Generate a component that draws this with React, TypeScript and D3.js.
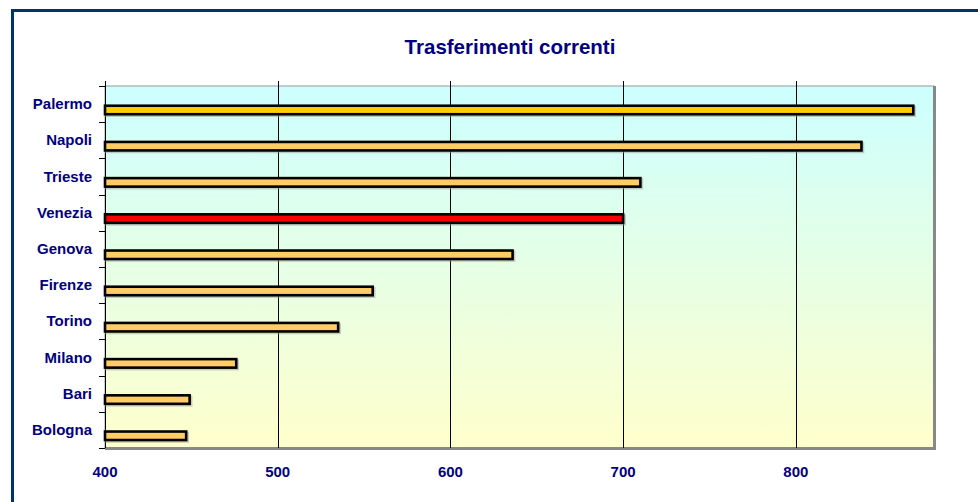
import React from "react";
import * as d3 from "d3";

const cities = ["Palermo", "Napoli", "Trieste", "Venezia", "Genova", "Firenze", "Torino", "Milano", "Bari", "Bologna"];
const values = [868, 838, 710, 700, 636, 555, 535, 476, 449, 447];
const tickValues = [400, 500, 600, 700, 800];
const title = "Trasferimenti correnti";

const W = 978;
const H = 502;
const plot = { left: 105, top: 86, right: 934, bottom: 448 };
const navy = "#000080";
const font = "'Liberation Sans', Arial, sans-serif";

const barColor = (name: string) =>
  name === "Venezia" ? "#FF0000" : name === "Palermo" ? "#FFCC00" : "#FFCC66";

const App = () => {
  const x = d3.scaleLinear().domain([400, 880]).range([plot.left, plot.right]);
  const y = d3
    .scaleBand()
    .domain(cities)
    .range([plot.top, plot.bottom])
    .padding(0);
  const bw = y.bandwidth();

  const boundaries = d3.range(cities.length + 1).map((i) => plot.top + i * bw);

  return (
    <svg
      width={W}
      height={H}
      style={{ position: "absolute", left: 0, top: 0, display: "block" }}
    >
      <defs>
        <linearGradient id="bg" x1="0" y1="0" x2="0" y2="1">
          <stop offset="0%" stopColor="#CCFFFF" />
          <stop offset="100%" stopColor="#FFFFCC" />
        </linearGradient>
      </defs>
      <rect x={0} y={0} width={W} height={H} fill="#fff" />
      {/* outer frame */}
      <line x1={12.5} y1={10.5} x2={W} y2={10.5} stroke="#003366" strokeWidth={3} />
      <line x1={12.5} y1={9} x2={12.5} y2={H} stroke="#003366" strokeWidth={3} />

      <text
        x={510}
        y={54}
        textAnchor="middle"
        fontFamily={font}
        fontWeight="bold"
        fontSize={20.5}
        fill={navy}
      >
        {title}
      </text>

      {/* plot area */}
      <rect
        x={plot.left}
        y={plot.top}
        width={plot.right - plot.left}
        height={plot.bottom - plot.top}
        fill="url(#bg)"
        stroke="#999"
        strokeWidth={1}
      />
      <line x1={plot.right + 0.5} y1={plot.top} x2={plot.right + 0.5} y2={plot.bottom + 2} stroke="#888" strokeWidth={3} />
      <line x1={plot.left} y1={plot.bottom + 0.5} x2={plot.right + 2} y2={plot.bottom + 0.5} stroke="#888" strokeWidth={3} />

      {/* gridlines + value ticks */}
      {tickValues.map((t) => (
        <g key={t}>
          <line
            x1={Math.round(x(t)) + 0.5}
            x2={Math.round(x(t)) + 0.5}
            y1={plot.top - 5}
            y2={plot.bottom}
            stroke="#000"
            strokeWidth={1}
          />
          <text
            x={x(t)}
            y={477}
            textAnchor="middle"
            fontFamily={font}
            fontWeight="bold"
            fontSize={15}
            fill={navy}
          >
            {t}
          </text>
        </g>
      ))}

      {/* category ticks */}
      {boundaries.map((b, i) => (
        <line
          key={i}
          x1={plot.left - 6}
          x2={plot.left}
          y1={Math.round(b) + 0.5}
          y2={Math.round(b) + 0.5}
          stroke="#000"
          strokeWidth={1}
        />
      ))}

      {/* bars */}
      {cities.map((c, i) => {
        const top = (y(c) as number) + bw * 0.545;
        const h = bw * 0.235;
        return (
          <g key={c}>
            <rect
              x={plot.left + 1.5}
              y={top + 1.5}
              width={x(values[i]) - plot.left}
              height={h}
              fill="none"
              stroke="#999"
              strokeOpacity={0.5}
              strokeWidth={2.6}
            />
            <rect
              x={plot.left}
              y={top}
              width={x(values[i]) - plot.left}
              height={h}
              fill={barColor(c)}
              stroke="#000"
              strokeWidth={2.6}
            />
          </g>
        );
      })}

      {/* category labels */}
      {cities.map((c) => (
        <text
          key={c}
          x={92}
          y={(y(c) as number) + bw / 2 + 5}
          textAnchor="end"
          fontFamily={font}
          fontWeight="bold"
          fontSize={15}
          fill={navy}
        >
          {c}
        </text>
      ))}
    </svg>
  );
};

export default App;
